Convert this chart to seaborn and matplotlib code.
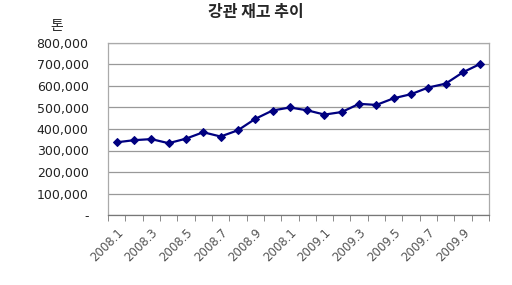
import numpy as np
import pandas as pd
import matplotlib
matplotlib.use("Agg")
import matplotlib.pyplot as plt
import seaborn as sns

months = ["2008.1", "2008.2", "2008.3", "2008.4", "2008.5", "2008.6", "2008.7",
          "2008.8", "2008.9", "2008.10", "2008.11", "2008.12", "2009.1", "2009.2",
          "2009.3", "2009.4", "2009.5", "2009.6", "2009.7", "2009.8", "2009.9", "2009.10"]
stock = [338000, 348000, 353000, 334000, 355000, 385000, 365000, 394000, 447000,
         486000, 500000, 487000, 467000, 479000, 517000, 512000, 543000, 562000,
         593000, 611000, 664000, 703000]
# Excel-style labels: every other month, "2008.11" shown truncated
tick_labels = ["2008.1", "2008.3", "2008.5", "2008.7", "2008.9", "2008.1",
               "2009.1", "2009.3", "2009.5", "2009.7", "2009.9"]
y_ticks = [0, 100000, 200000, 300000, 400000, 500000, 600000, 700000, 800000]

df = pd.DataFrame({"idx": np.arange(len(months)), "month": months, "stock": stock})

sns.set_style("white")
plt.rcParams["font.family"] = ["Noto Sans CJK KR", "DejaVu Sans"]

fig = plt.figure(figsize=(5.12, 2.85), dpi=100)
ax = fig.add_axes([108 / 512, 1 - 215 / 285, (489 - 108) / 512, (215 - 43) / 285])

sns.lineplot(data=df, x="idx", y="stock", ax=ax, color="#000080", linewidth=1.6,
             marker="D", markersize=4.5, markeredgecolor="#000080")

ax.set_xlim(-0.5, len(months) - 0.5)
ax.set_ylim(0, 800000)
ax.set_yticks(y_ticks)
ax.set_yticklabels(["-" if v == 0 else f"{v:,}" for v in y_ticks], fontsize=9,
                   color="#222222", family="DejaVu Sans")
ax.yaxis.grid(True, color="#999999", linewidth=0.9)
ax.tick_params(axis="y", length=0, pad=14)

# category boundary ticks, labels at every other category
ax.set_xticks(np.arange(-0.5, len(months), 1.0), minor=True)
ax.set_xticks(np.arange(0, len(months), 2))
ax.set_xticklabels(tick_labels, rotation=45, ha="right", rotation_mode="anchor",
                   fontsize=8.5, color="#555555", family="DejaVu Sans")
ax.tick_params(axis="x", which="major", length=0, pad=8)
ax.tick_params(axis="x", which="minor", length=4, color="#777777", direction="out", bottom=True)

for s in ax.spines.values():
    s.set_color("#aaaaaa")
    s.set_linewidth(0.9)
ax.spines["bottom"].set_color("#777777")

ax.set_xlabel("")
ax.set_ylabel("")

fig.text(256 / 512, 1 - 12 / 285, "강관 재고 추이", ha="center", va="center",
         fontsize=11.5, fontweight="bold")
fig.text(57 / 512, 1 - 26 / 285, "톤", ha="center", va="center", fontsize=10)

fig.savefig("out.png", dpi=100, facecolor="white")
